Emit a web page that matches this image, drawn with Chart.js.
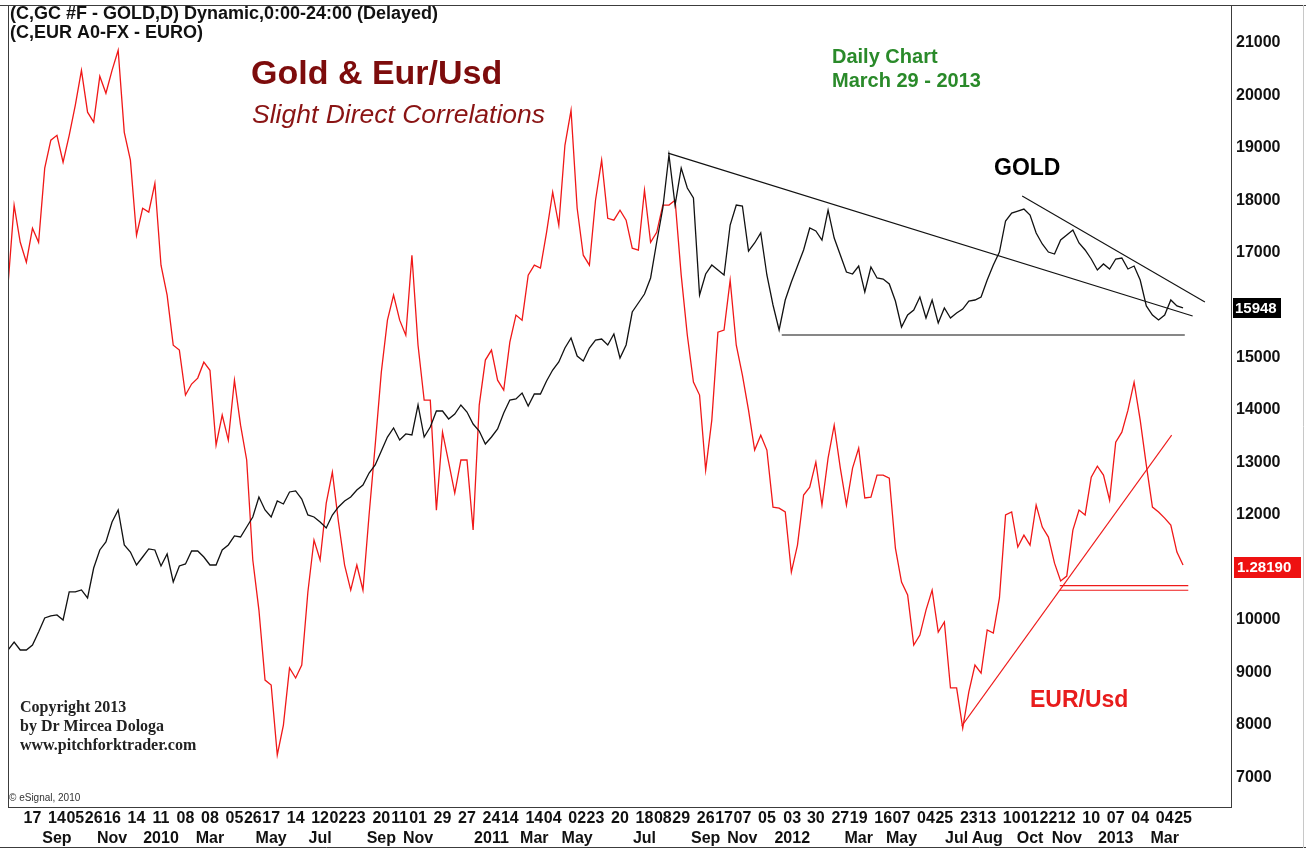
<!DOCTYPE html>
<html>
<head>
<meta charset="utf-8">
<script src="https://cdn.jsdelivr.net/npm/chart.js@4.4.1/dist/chart.umd.min.js"></script>
<style>
html,body{margin:0;padding:0;background:#fff;}
#wrap{width:1306px;height:849px;position:relative;}
</style>
</head>
<body>
<div id="wrap"><canvas id="c" width="1306" height="849"></canvas></div>
<script>
// ---- data (weekly samples, week 0 = week of 2009-07-20) ----
const firstWeek = '2009-07-20';

// Gold (GC #F) in axis units (price x10)
const gold = [
  9424, 9577, 9424, 9424, 9520, 9768,10035,10073,10092, 9997,
 10531,10531,10569,10416,10988,11332,11484,11866,12094,11427,
 11293,11045,11198,11351,11332,11026,11255,10721,11026,11065,
 11312,11312,11198,11045,11045,11332,11427,11599,11579,11770,
 11961,12342,12094,11961,12266,12209,12438,12457,12304,11999,
 11961,11866,11751,11999,12152,12266,12342,12476,12571,12800,
 12952,13219,13486,13658,13429,13544,13525,14097,13486,13677,
 13982,13982,13830,13925,14097,13963,13734,13601,13353,13486,
 13639,13944,14192,14211,14325,14078,14306,14306,14554,14764,
 14917,15184,15374,15031,14936,15184,15336,15355,15241,15451,
 14993,15241,15870,16042,16213,16519,17205,17853,18864,17911,
 18616,18235,18044,16194,16595,16766,16671,16576,17529,17911,
 17892,17033,17186,17377,16576,16004,15527,16099,16442,16747,
 17053,17472,17415,17243,17815,17281,16957,16633,16595,16747,
 16252,16728,16519,16499,16404,16080,15584,15813,15908,16156,
 15756,16099,15660,15946,15756,15851,15927,16080,16099,16156,
 16480,16766,17014,17606,17758,17796,17834,17720,17377,17167,
 17014,16976,17243,17339,17434,17186,17053,16881,16671,16786,
 16690,16881,16900,16690,16747,16480,15985,15813,15718,15813,
 16099,15985,15948
];

// EUR/USD
const eurusd = [
 1.4138,1.4515,1.4340,1.4246,1.4406,1.4340,1.4689,1.4821,1.4844,1.4717,
 1.4844,1.4986,1.5150,1.4953,1.4906,1.5122,1.5042,1.5150,1.5245,1.4858,
 1.4727,1.4373,1.4500,1.4482,1.4618,1.4232,1.4091,1.3855,1.3832,1.3620,
 1.3672,1.3700,1.3775,1.3737,1.3384,1.3526,1.3408,1.3690,1.3478,1.3314,
 1.2843,1.2607,1.2277,1.2254,1.1924,1.2065,1.2334,1.2287,1.2348,1.2692,
 1.2937,1.2843,1.3111,1.3257,1.3022,1.2819,1.2701,1.2819,1.2701,1.3055,
 1.3384,1.3728,1.3973,1.4091,1.3973,1.3902,1.4279,1.3855,1.3596,1.3596,
 1.3078,1.3445,1.3304,1.3158,1.3314,1.3314,1.2984,1.3573,1.3785,1.3832,
 1.3690,1.3643,1.3869,1.3997,1.3973,1.4185,1.4232,1.4218,1.4387,1.4576,
 1.4420,1.4797,1.4962,1.4500,1.4279,1.4232,1.4538,1.4727,1.4453,1.4444,
 1.4491,1.4444,1.4312,1.4303,1.4585,1.4340,1.4387,1.4515,1.4515,1.4538,
 1.4185,1.3902,1.3681,1.3620,1.3266,1.3502,1.3916,1.3926,1.4161,1.3855,
 1.3714,1.3549,1.3361,1.3431,1.3361,1.3092,1.3087,1.3069,1.2786,1.2913,
 1.3149,1.3186,1.3304,1.3102,1.3323,1.3478,1.3276,1.3102,1.3276,1.3370,
 1.3135,1.3139,1.3243,1.3243,1.3229,1.2899,1.2739,1.2678,1.2442,1.2489,
 1.2607,1.2701,1.2503,1.2551,1.2240,1.2240,1.2051,1.2221,1.2348,1.2310,
 1.2513,1.2499,1.2664,1.3055,1.3069,1.2904,1.2960,1.2913,1.3102,1.2998,
 1.2951,1.2828,1.2744,1.2767,1.2984,1.3078,1.3055,1.3233,1.3285,1.3243,
 1.3125,1.3398,1.3445,1.3549,1.3681,1.3502,1.3290,1.3092,1.3069,1.3040,
 1.3007,1.2880,1.2819
];

// bottom axis: day tick labels
const tickDates = [
 '2009-08-17','2009-09-14','2009-10-05','2009-10-26','2009-11-16','2009-12-14',
 '2010-01-11','2010-02-08','2010-03-08','2010-04-05','2010-04-26','2010-05-17',
 '2010-06-14','2010-07-12','2010-08-02','2010-08-23','2010-09-20','2010-10-11',
 '2010-11-01','2010-11-29','2010-12-27','2011-01-24','2011-02-14','2011-03-14',
 '2011-04-04','2011-05-02','2011-05-23','2011-06-20','2011-07-18','2011-08-08',
 '2011-08-29','2011-09-26','2011-10-17','2011-11-07','2011-12-05','2012-01-03',
 '2012-01-30','2012-02-27','2012-03-19','2012-04-16','2012-05-07','2012-06-04',
 '2012-06-25','2012-07-23','2012-08-13','2012-09-10','2012-10-01','2012-10-22',
 '2012-11-12','2012-12-10','2013-01-07','2013-02-04','2013-03-04','2013-03-25'
];
// bottom axis: month / year tick labels
const monthDates = [
 '2009-09-14','2009-11-16','2010-01-11','2010-03-08','2010-05-17','2010-07-12',
 '2010-09-20','2010-11-01','2011-01-24','2011-03-14','2011-05-02','2011-07-18',
 '2011-09-26','2011-11-07','2012-01-03','2012-03-19','2012-05-07','2012-07-09',
 '2012-08-13','2012-10-01','2012-11-12','2013-01-07','2013-03-04'
];
const monthLabels = [
 'Sep','Nov','2010','Mar','May','Jul',
 'Sep','Nov','2011','Mar','May','Jul',
 'Sep','Nov','2012','Mar','May','Jul',
 'Aug','Oct','Nov','2013','Mar'
];
const goldTickValues = [7000,8000,9000,10000,11000,12000,13000,14000,15000,16000,17000,18000,19000,20000,21000];

// drawn trend lines (date, value)
const goldTrends = [
  {from:'2011-08-14', fromValue:18900, to:'2013-04-05', toValue:15794},
  {from:'2012-09-22', fromValue:18082, to:'2013-04-19', toValue:16061},
  {from:'2011-12-22', fromValue:15432, to:'2013-03-27', toValue:15432}
];
const eurTrends = [
  {from:'2012-07-15', fromValue:1.2061, to:'2013-03-12', toValue:1.3431},
  {from:'2012-11-04', fromValue:1.2722, to:'2013-03-31', toValue:1.2722},
  {from:'2012-11-04', fromValue:1.2700, to:'2013-03-31', toValue:1.2700}
];

// ---- helpers ----
const DAY = 86400000;
function weekOf(d){ return (Date.parse(d+'T00:00:00Z') - Date.parse(firstWeek+'T00:00:00Z'))/(7*DAY); }

const SANS = '"Liberation Sans", Arial, sans-serif';
const SERIF = '"Liberation Serif", "Times New Roman", serif';

const texts = [
  {t:'(C,GC #F - GOLD,D) Dynamic,0:00-24:00 (Delayed)', x:10, y:14, f:'bold 18px '+SANS, c:'#111'},
  {t:'(C,EUR A0-FX - EURO)', x:10, y:33, f:'bold 18px '+SANS, c:'#111'},
  {t:'Gold & Eur/Usd', x:251, y:75, f:'bold 34px '+SANS, c:'#7d0c0c'},
  {t:'Slight Direct Correlations', x:252, y:116, f:'italic 26.5px '+SANS, c:'#8a1414'},
  {t:'Daily Chart', x:832, y:57, f:'bold 20px '+SANS, c:'#2a8a2a'},
  {t:'March 29 - 2013', x:832, y:81, f:'bold 20px '+SANS, c:'#2a8a2a'},
  {t:'GOLD', x:994, y:169, f:'bold 23px '+SANS, c:'#000'},
  {t:'EUR/Usd', x:1030, y:701, f:'bold 23px '+SANS, c:'#e81c1c'},
  {t:'Copyright 2013', x:20, y:708, f:'bold 16px '+SERIF, c:'#222'},
  {t:'by Dr Mircea Dologa', x:20, y:727, f:'bold 16px '+SERIF, c:'#222'},
  {t:'www.pitchforktrader.com', x:20, y:746, f:'bold 16px '+SERIF, c:'#222'},
  {t:'\u00A9 eSignal, 2010', x:9, y:798, f:'10px '+SANS, c:'#333'}
];

const decor = {
  id:'decor',
  afterDraw(chart){
    const ctx = chart.ctx, a = chart.chartArea;
    const ys = chart.scales.y, y2 = chart.scales.y2;
    ctx.save();
    // frames
    ctx.strokeStyle = '#3c3c3c'; ctx.lineWidth = 1;
    ctx.strokeRect(a.left+0.5, a.top+0.5, a.right-a.left-1, a.bottom-a.top);
    ctx.beginPath();
    ctx.moveTo(0, a.top+0.5); ctx.lineTo(1306, a.top+0.5);
    ctx.moveTo(0, 847.5); ctx.lineTo(1306, 847.5);
    ctx.stroke();
    ctx.strokeStyle = '#c8c8c8';
    ctx.beginPath(); ctx.moveTo(1303.5, a.top); ctx.lineTo(1303.5, 848); ctx.stroke();
    // texts
    ctx.textBaseline = 'middle'; ctx.textAlign = 'left';
    texts.forEach(o => { ctx.font = o.f; ctx.fillStyle = o.c; ctx.fillText(o.t, o.x, o.y); });
    // last value boxes
    const lastG = gold[gold.length-1];
    const gy = Math.round(ys.getPixelForValue(lastG));
    ctx.fillStyle = '#000'; ctx.fillRect(a.right+1, gy-10, 48, 20);
    ctx.font = 'bold 15px '+SANS; ctx.fillStyle = '#fff';
    ctx.fillText(String(lastG), a.right+3, gy+1);
    const lastE = eurusd[eurusd.length-1];
    const ey = Math.round(y2.getPixelForValue(lastE)) + 2;
    ctx.fillStyle = '#ee1111'; ctx.fillRect(a.right+2, ey-10, 67, 21);
    ctx.fillStyle = '#fff';
    ctx.fillText(lastE.toFixed(5), a.right+5, ey+1);
    ctx.restore();
  }
};

function trendSet(t, axis, color){
  return {
    data:[{x:weekOf(t.from), y:t.fromValue},{x:weekOf(t.to), y:t.toValue}],
    yAxisID:axis, borderColor:color, borderWidth:1.1, pointRadius:0, tension:0, order:0
  };
}

const datasets = [
  {label:'EUR/USD', data:eurusd.map((v,i)=>({x:i,y:v})), yAxisID:'y2',
   borderColor:'#f01818', borderWidth:1.3, pointRadius:0, tension:0, order:2},
  {label:'Gold', data:gold.map((v,i)=>({x:i,y:v})), yAxisID:'y',
   borderColor:'#111', borderWidth:1.3, pointRadius:0, tension:0, order:1}
];
goldTrends.forEach(t => datasets.push(trendSet(t,'y','#111')));
eurTrends.forEach(t => datasets.push(trendSet(t,'y2','#ee1a1a')));

const axisFont = {family:SANS, size:16, weight:'bold', lineHeight:1.2};

new Chart(document.getElementById('c'), {
  type:'line',
  data:{datasets},
  options:{
    responsive:false, animation:false, devicePixelRatio:1,
    layout:{padding:{left:8, top:5, right:0, bottom:0}},
    plugins:{legend:{display:false}, tooltip:{enabled:false}},
    scales:{
      x:{
        type:'linear', min:0, max:200, weight:0,
        afterBuildTicks:s => { s.ticks = tickDates.map(d => ({value:weekOf(d)})); },
        afterFit:s => { s.height = 22; s.paddingLeft = 0; s.paddingRight = 0; },
        grid:{display:false, drawTicks:false}, border:{display:false},
        ticks:{autoSkip:false, maxRotation:0, minRotation:0, padding:2, color:'#111',
          font:axisFont, callback:(v,i) => tickDates[i].slice(8)}
      },
      xm:{
        type:'linear', position:'bottom', min:0, max:200, weight:1,
        afterBuildTicks:s => { s.ticks = monthDates.map(d => ({value:weekOf(d)})); },
        afterFit:s => { s.height = 20; s.paddingLeft = 0; s.paddingRight = 0; },
        grid:{display:false, drawTicks:false}, border:{display:false},
        ticks:{autoSkip:false, maxRotation:0, minRotation:0, padding:0, color:'#111',
          font:axisFont, callback:(v,i) => monthLabels[i]}
      },
      y:{
        type:'linear', position:'right', min:6430, max:21725,
        afterBuildTicks:s => { s.ticks = goldTickValues.map(v => ({value:v})); },
        afterFit:s => { s.width = 74; s.paddingTop = 0; s.paddingBottom = 0; },
        grid:{display:false, drawTicks:false}, border:{display:false},
        ticks:{color:'#111', padding:4, font:{family:SANS, size:16, weight:'bold'}, callback:v => String(v)}
      },
      y2:{type:'linear', display:false, min:1.1679, max:1.5458}
    }
  },
  plugins:[decor]
});
</script>
</body>
</html>
